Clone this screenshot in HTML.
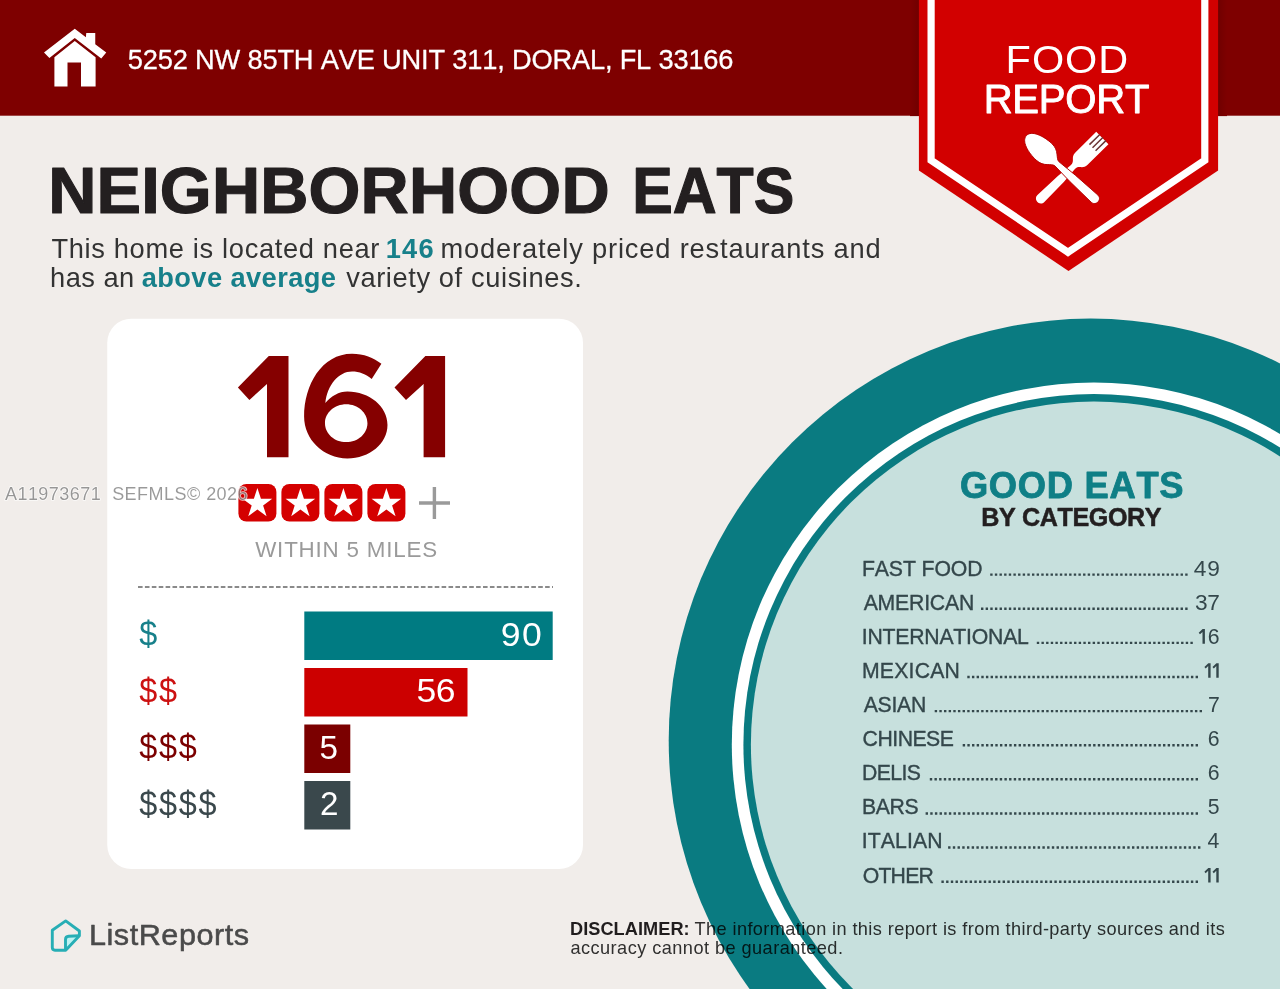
<!DOCTYPE html>
<html>
<head>
<meta charset="utf-8">
<title>Food Report</title>
<style>
html,body{margin:0;padding:0;background:#f1edea;}
body{width:1280px;height:989px;overflow:hidden;}
svg{display:block;font-family:"Liberation Sans",sans-serif;font-kerning:none;}
text{white-space:pre;}
</style>
</head>
<body>
<svg width="1280" height="989" viewBox="0 0 1280 989">
<defs>
  <linearGradient id="shl" x1="0" x2="1" y1="0" y2="0"><stop offset="0" stop-color="#7e0000"/><stop offset="1" stop-color="#700000"/></linearGradient>
  <linearGradient id="shr" x1="1" x2="0" y1="0" y2="0"><stop offset="0" stop-color="#7e0000"/><stop offset="1" stop-color="#700000"/></linearGradient>
  <g id="st">
    <rect x="0" y="0" width="38" height="37.6" rx="8" ry="8" fill="#d40000"/>
    <path d="M19.00 4.00 L22.53 14.75 L33.84 14.78 L24.71 21.45 L28.17 32.22 L19.00 25.60 L9.83 32.22 L13.29 21.45 L4.16 14.78 L15.47 14.75 Z" fill="#fff"/>
  </g>
</defs>
<rect x="0" y="0" width="1280" height="989" fill="#f1edea"/>

<!-- plate -->
<circle cx="1090.7" cy="740.6" r="422" fill="#0a7b81"/>
<circle cx="1093.9" cy="744.6" r="362.1" fill="#ffffff"/>
<circle cx="1093.9" cy="744.6" r="350.5" fill="#0a7b81"/>
<circle cx="1093.9" cy="744.6" r="343" fill="#c7e0dd"/>

<!-- header -->
<rect x="0" y="0" width="1280" height="115.7" fill="#7e0000"/>
<path d="M74.75 28.75 L85.9 37.3 L86.25 33.1 L95.25 33.1 L95.25 44.3 L106.25 52.4 L101.25 58.4 L74.75 38.1 L49.4 58 L44 52.4 Z" fill="#fff"/>
<path d="M74.75 41 L95.6 57.2 L95.6 86.5 L81 86.5 L81 62.5 L67.5 62.5 L67.5 86.5 L54.4 86.5 L54.4 57.2 Z" fill="#fff"/>

<text x="127.81" y="69.25" font-size="27.25" fill="#fff" letter-spacing="-0.188"  stroke="#fff" stroke-width="0.3" stroke-linejoin="round">5252 NW 85TH AVE UNIT 311, DORAL, FL 33166</text>
<!-- badge -->
<rect x="910" y="0" width="9" height="116.1" fill="url(#shl)"/>
<rect x="1218" y="0" width="9" height="116.1" fill="url(#shr)"/>
<path d="M918.9 0 L1218.1 0 L1218.1 170.5 L1068.5 271 L918.9 170.5 Z" fill="#d20000"/>
<path d="M931.1 -5 L931.1 160.3 L1068 252.3 L1204.8 160.3 L1204.8 -5" fill="none" stroke="#fff" stroke-width="7.2" stroke-linejoin="miter"/>
<g transform="translate(1040.9 198.6) rotate(-44.6)">
  <path fill="#fff" d="M0 -4.9 C-6.5 -4.9 -6.5 4.9 0 4.9 L28 4.2 L45 2.8 C51 2.8 50 8.7 57 8.7 L86.3 8.7 L86.3 -8.7 L57 -8.7 C50 -8.7 51 -2.8 45 -2.8 L28 -4.2 Z"/>
  <path stroke="#6b3535" stroke-width="1.5" fill="none" d="M72.5 -4.35 H87 M72.5 0 H87 M72.5 4.35 H87"/>
</g>
<g transform="translate(1094.5 198.6) rotate(-137.2)" fill="#fff" stroke="#b40000" stroke-width="0.9">
  <path d="M0 -4.9 C-6.5 -4.9 -6.5 4.9 0 4.9 L30 4.2 L51 2.9 C56 3 58 11.4 69 11.4 C80 11.4 92.8 7.5 92.8 0 C92.8 -7.5 80 -11.4 69 -11.4 C58 -11.4 56 -3 51 -2.9 L30 -4.2 Z"/>
</g>

<text transform="translate(1005.60 73.30) scale(1.08 1)" font-size="38.37" fill="#fff" letter-spacing="0.917" >FOOD</text>
<text x="983.66" y="112.80" font-size="40.12" fill="#fff" letter-spacing="-0.271"  stroke="#fff" stroke-width="0.9" stroke-linejoin="round">REPORT</text>
<!-- title -->
<text transform="translate(48.14 213.10) scale(1.02 1)" font-size="65.41" font-weight="bold" fill="#231f20" letter-spacing="0.168"  stroke="#231f20" stroke-width="1.2" stroke-linejoin="round">NEIGHBORHOOD</text>
<text transform="translate(632.13 213.10) scale(0.93 1)" font-size="65.41" font-weight="bold" fill="#231f20" letter-spacing="-0.030"  stroke="#231f20" stroke-width="1.2" stroke-linejoin="round">EATS</text>
<text x="51.39" y="258.25" font-size="27.25" fill="#333" letter-spacing="0.667" >This home is located near</text>
<text x="385.68" y="258.25" font-size="27.25" font-weight="bold" fill="#17808a" letter-spacing="1.216" >146</text>
<text x="440.49" y="258.25" font-size="27.25" fill="#333" letter-spacing="0.835" >moderately priced restaurants and</text>
<text x="50.11" y="286.75" font-size="27.25" fill="#333" letter-spacing="0.467" >has an</text>
<text x="141.70" y="286.75" font-size="27.25" font-weight="bold" fill="#17808a" letter-spacing="0.405" >above average</text>
<text x="346.16" y="286.75" font-size="27.25" fill="#333" letter-spacing="0.608" >variety of cuisines.</text>
<!-- card -->
<rect x="107.25" y="318.75" width="475.75" height="550.25" rx="24" ry="24" fill="#fff"/>

<path d="M268.8 355.9 L288.5 355.9 L288.5 457.3 L267 457.3 L267 384.1 L249.4 399.9 L237.9 387.5 Z" fill="#850000"/>
<path d="M325.34 403.01 C331.41 395.97 338.69 391.48 347.43 391.48 C369.55 391.48 387.48 406.48 387.48 424.98 C387.48 443.48 369.55 458.47 347.43 458.47 C323.52 458.47 304.10 439.66 304.10 416.60 C304.10 385.05 321.70 353.74 352.04 353.74 C363.57 353.74 373.88 357.74 381.41 363.81 L371.70 378.98 C366.00 374.13 359.32 371.46 352.04 371.46 C338.69 371.46 327.16 385.05 325.34 403.01 Z M324.98 423.16 C324.98 412.70 334.48 404.22 346.21 404.22 C357.94 404.22 367.45 412.70 367.45 423.16 C367.45 433.61 357.94 442.09 346.21 442.09 C334.48 442.09 324.98 433.61 324.98 423.16 Z" fill="#850000" fill-rule="evenodd"/>
<path d="M268.8 355.9 L288.5 355.9 L288.5 457.3 L267 457.3 L267 384.1 L249.4 399.9 L237.9 387.5 Z" fill="#850000" transform="translate(156.6 0)"/>
<use href="#st" x="238.4" y="484"/>
<use href="#st" x="281.4" y="484"/>
<use href="#st" x="324.4" y="484"/>
<use href="#st" x="367.4" y="484"/>
<path d="M419 503 H450 M434.4 487 V519" stroke="#9a9a9a" stroke-width="3.4" fill="none"/>

<text x="255.20" y="556.60" font-size="22.38" fill="#9a9a9a" letter-spacing="0.808" >WITHIN 5 MILES</text>
<line x1="138" y1="587" x2="553" y2="587" stroke="#8a8a8a" stroke-width="2" stroke-dasharray="4.6 2.3"/>
<rect x="304.3" y="611.5" width="248.4" height="48.5" fill="#007b82"/>
<text transform="translate(500.63 645.70) scale(1.07 1)" font-size="33.24" fill="#fff" letter-spacing="1.587" >90</text>
<text transform="translate(139.25 646.00) scale(0.9 1)" font-size="36.00" fill="#17808a" letter-spacing="0.000" >$</text>
<rect x="304.3" y="668" width="163.2" height="48.5" fill="#cc0000"/>
<text transform="translate(416.58 702.20) scale(1.07 1)" font-size="33.24" fill="#fff" letter-spacing="-0.534" >56</text>
<text transform="translate(139.25 702.50) scale(0.9 1)" font-size="36.00" fill="#cc1111" letter-spacing="1.813" >$$</text>
<rect x="304.3" y="724.5" width="46.0" height="48.5" fill="#7b0000"/>
<text x="319.61" y="758.70" font-size="33.24" fill="#fff" letter-spacing="0.000" >5</text>
<text transform="translate(139.25 759.00) scale(0.9 1)" font-size="36.00" fill="#7b0000" letter-spacing="1.896" >$$$</text>
<rect x="304.3" y="781" width="46.0" height="48.5" fill="#3a484c"/>
<text x="319.89" y="815.20" font-size="33.24" fill="#fff" letter-spacing="0.000" >2</text>
<text transform="translate(139.25 815.50) scale(0.9 1)" font-size="36.00" fill="#3a484c" letter-spacing="1.923" >$$$$</text>
<text x="4.96" y="499.60" font-size="18.00" fill="#000" letter-spacing="0.464" fill-opacity="0.4" stroke="#fff" stroke-opacity="0.75" stroke-width="1.6" paint-order="stroke" stroke-linejoin="round">A11973671  SEFMLS© 2026</text>
<!-- good eats -->
<text x="959.91" y="498.00" font-size="36.34" font-weight="bold" fill="#0f7f86" letter-spacing="0.708"  stroke="#0f7f86" stroke-width="0.8" stroke-linejoin="round">GOOD EATS</text>
<text x="981.27" y="526.20" font-size="25.14" font-weight="bold" fill="#231f20" letter-spacing="-0.401"  stroke="#231f20" stroke-width="0.5" stroke-linejoin="round">BY CATEGORY</text>
<text x="861.96" y="575.50" font-size="21.22" fill="#34474b" letter-spacing="-0.097" stroke="#34474b" stroke-width="0.35">FAST FOOD</text>
<text transform="translate(1193.78 575.50) scale(1.07 1)" font-size="21.22" fill="#34474b" letter-spacing="0.692" >49</text>
<line x1="990.20" y1="574.60" x2="1187.65" y2="574.60" stroke="#34474b" stroke-width="2.4" stroke-dasharray="2.4 2.2429"/>
<text x="863.66" y="609.62" font-size="21.22" fill="#34474b" letter-spacing="-0.206" stroke="#34474b" stroke-width="0.35">AMERICAN</text>
<text transform="translate(1194.94 609.62) scale(1.07 1)" font-size="21.22" fill="#34474b" letter-spacing="-0.327" >37</text>
<line x1="981.00" y1="608.72" x2="1187.65" y2="608.72" stroke="#34474b" stroke-width="2.4" stroke-dasharray="2.4 2.2409"/>
<text x="861.74" y="643.74" font-size="21.22" fill="#34474b" letter-spacing="-0.219" stroke="#34474b" stroke-width="0.35">INTERNATIONAL</text>
<text x="1207.83" y="643.74" font-size="21.22" fill="#34474b" letter-spacing="0.000" >6</text>
<path transform="translate(1204.90 643.74)" fill="#34474b" d="M-2.3 -14.7 L0 -14.7 L0 0 L-2.4 0 L-2.4 -11.8 L-4.9 -9.4 L-6.2 -10.9 Z"/>
<line x1="1036.80" y1="642.84" x2="1192.85" y2="642.84" stroke="#34474b" stroke-width="2.4" stroke-dasharray="2.4 2.2545"/>
<text x="861.96" y="677.86" font-size="21.22" fill="#34474b" letter-spacing="0.214" stroke="#34474b" stroke-width="0.35">MEXICAN</text>
<path transform="translate(1218.70 677.86)" fill="#34474b" d="M-2.3 -14.7 L0 -14.7 L0 0 L-2.4 0 L-2.4 -11.8 L-4.9 -9.4 L-6.2 -10.9 Z"/>
<path transform="translate(1210.60 677.86)" fill="#34474b" d="M-2.3 -14.7 L0 -14.7 L0 0 L-2.4 0 L-2.4 -11.8 L-4.9 -9.4 L-6.2 -10.9 Z"/>
<line x1="967.30" y1="676.96" x2="1198.05" y2="676.96" stroke="#34474b" stroke-width="2.4" stroke-dasharray="2.4 2.2592"/>
<text x="863.66" y="711.98" font-size="21.22" fill="#34474b" letter-spacing="-0.253" stroke="#34474b" stroke-width="0.35">ASIAN</text>
<text x="1207.97" y="711.98" font-size="21.22" fill="#34474b" letter-spacing="0.000" >7</text>
<line x1="934.70" y1="711.08" x2="1202.05" y2="711.08" stroke="#34474b" stroke-width="2.4" stroke-dasharray="2.4 2.2474"/>
<text x="862.62" y="746.10" font-size="21.22" fill="#34474b" letter-spacing="-0.507" stroke="#34474b" stroke-width="0.35">CHINESE</text>
<text x="1207.83" y="746.10" font-size="21.22" fill="#34474b" letter-spacing="0.000" >6</text>
<line x1="962.70" y1="745.20" x2="1198.05" y2="745.20" stroke="#34474b" stroke-width="2.4" stroke-dasharray="2.4 2.2580"/>
<text x="861.96" y="780.22" font-size="21.22" fill="#34474b" letter-spacing="-0.579" stroke="#34474b" stroke-width="0.35">DELIS</text>
<text x="1207.83" y="780.22" font-size="21.22" fill="#34474b" letter-spacing="0.000" >6</text>
<line x1="929.80" y1="779.32" x2="1198.05" y2="779.32" stroke="#34474b" stroke-width="2.4" stroke-dasharray="2.4 2.2632"/>
<text x="861.96" y="814.34" font-size="21.22" fill="#34474b" letter-spacing="-0.391" stroke="#34474b" stroke-width="0.35">BARS</text>
<text x="1207.79" y="814.34" font-size="21.22" fill="#34474b" letter-spacing="0.000" >5</text>
<line x1="925.60" y1="813.44" x2="1198.05" y2="813.44" stroke="#34474b" stroke-width="2.4" stroke-dasharray="2.4 2.2552"/>
<text x="861.74" y="848.46" font-size="21.22" fill="#34474b" letter-spacing="0.100" stroke="#34474b" stroke-width="0.35">ITALIAN</text>
<text x="1207.52" y="848.46" font-size="21.22" fill="#34474b" letter-spacing="0.000" >4</text>
<line x1="948.10" y1="847.56" x2="1200.45" y2="847.56" stroke="#34474b" stroke-width="2.4" stroke-dasharray="2.4 2.3151"/>
<text x="862.69" y="882.58" font-size="21.22" fill="#34474b" letter-spacing="-0.771" stroke="#34474b" stroke-width="0.35">OTHER</text>
<path transform="translate(1218.70 882.58)" fill="#34474b" d="M-2.3 -14.7 L0 -14.7 L0 0 L-2.4 0 L-2.4 -11.8 L-4.9 -9.4 L-6.2 -10.9 Z"/>
<path transform="translate(1210.60 882.58)" fill="#34474b" d="M-2.3 -14.7 L0 -14.7 L0 0 L-2.4 0 L-2.4 -11.8 L-4.9 -9.4 L-6.2 -10.9 Z"/>
<line x1="941.40" y1="881.68" x2="1198.05" y2="881.68" stroke="#34474b" stroke-width="2.4" stroke-dasharray="2.4 2.3074"/>
<!-- logo -->
<path d="M65.5 950 L65.5 939.6 Q65.5 936.5 68.6 936.3 L79.4 935.8 Z" fill="#bdf3f3"/>
<path d="M65.7 920.9 L52.3 930.2 L52.3 947.6 Q52.3 950.2 54.9 950.2 L65.7 950.2 L79.4 935.8 L79.4 931 Z" fill="none" stroke="#27aeb5" stroke-width="2.9" stroke-linejoin="round"/>
<path d="M65.5 950 L65.5 939.6 Q65.5 936.5 68.6 936.3 L79 935.8" fill="none" stroke="#27aeb5" stroke-width="2.9" stroke-linejoin="round"/>

<text transform="translate(88.94 944.90) scale(1.07 1)" font-size="28.63" fill="#4a4a4a" letter-spacing="0.501"  stroke="#4a4a4a" stroke-width="0.5" stroke-linejoin="round">ListReports</text>
<g style="mix-blend-mode:multiply">
<text x="569.98" y="935.00" font-size="18.17" font-weight="bold" fill="#231f20" letter-spacing="0.066" >DISCLAIMER:</text>
<text x="694.59" y="935.00" font-size="18.17" fill="#333" letter-spacing="0.394" >The information in this report is from third-party sources and its</text>
<text x="570.43" y="954.40" font-size="18.17" fill="#333" letter-spacing="0.453" >accuracy cannot be guaranteed.</text>
</g>
</svg>
</body>
</html>
